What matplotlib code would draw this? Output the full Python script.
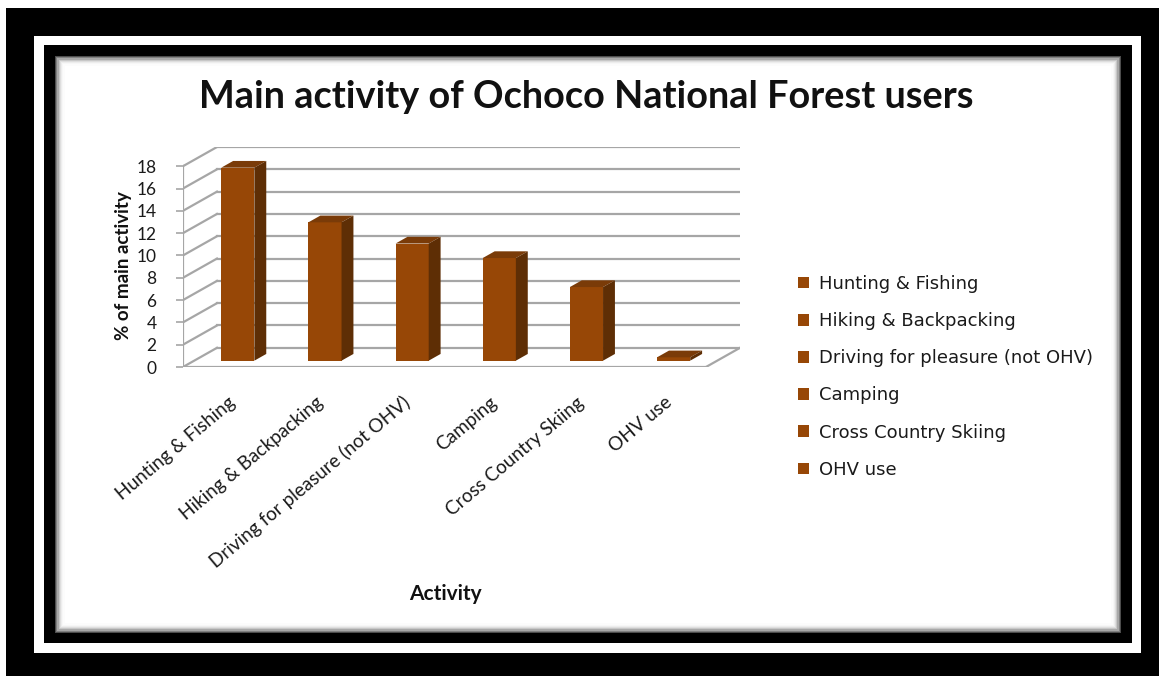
import matplotlib
matplotlib.use("Agg")
import matplotlib.pyplot as plt
from matplotlib.patches import Rectangle, Polygon
import numpy as np

# ---------------- data ----------------
categories = ["Hunting & Fishing", "Hiking & Backpacking",
              "Driving for pleasure (not OHV)", "Camping",
              "Cross Country Skiing", "OHV use"]
values = [17.3, 12.4, 10.5, 9.2, 6.6, 0.3]
yticks = [0, 2, 4, 6, 8, 10, 12, 14, 16, 18]
title = "Main activity of Ochoco National Forest users"
ylabel = "% of main activity"
xlabel = "Activity"

W, H = 1159, 676
fig = plt.figure(figsize=(W / 100, H / 100), dpi=100)
fig.patch.set_facecolor("white")

def px_rect(x0, y0, x1, y1, **kw):
    r = Rectangle((x0 / W, 1 - y1 / H), (x1 - x0) / W, (y1 - y0) / H,
                  transform=fig.transFigure, **kw)
    fig.patches.append(r)

# frame
px_rect(6, 8, 1159, 676, facecolor="black", edgecolor="none", zorder=0)
px_rect(34, 36, 1141, 653, facecolor="white", edgecolor="none", zorder=1)
px_rect(44, 45, 1132, 643, facecolor="black", edgecolor="none", zorder=2)
# soft shadow of the inner panel
shades = [0.30, 0.50, 0.66, 0.78, 0.87, 0.93, 0.97, 0.99]
for k, g in enumerate(shades):
    px_rect(55 + k * 1.2, 56 + k * 1.2, 1121 - k * 1.2, 633 - k * 1.2,
            facecolor=(g, g, g), edgecolor="none", zorder=3 + k)
d = len(shades) * 1.2
px_rect(55 + d, 56 + d, 1121 - d, 633 - d, facecolor="white",
        edgecolor="none", zorder=12)

# ---------------- 3D-like axes ----------------
DX = 0.39          # depth offset in category units
DY = 1.72          # depth offset in value units
f0, bd = 0.33, 0.35  # bar front depth fraction and bar depth
bw = 0.38
n = len(categories)

x0, x1, yb, yt = 183, 740, 367, 147
ax = fig.add_axes([x0 / W, 1 - yb / H, (x1 - x0) / W, (yb - yt) / H])
ax.set_zorder(20)
ax.patch.set_alpha(0)
ax.set_xlim(0, n + DX)
ax.set_ylim(0, yticks[-1] + DY)
for s in ax.spines.values():
    s.set_visible(False)

gc = "#a6a6a6"
glw = 1.6
for v in yticks:
    ax.plot([DX, n + DX], [v + DY, v + DY], color=gc, lw=glw, zorder=1)
    ax.plot([0, DX], [v, v + DY], color=gc, lw=glw, zorder=1)
# floor front and right edge, left front axis
ax.plot([0, n], [0, 0], color=gc, lw=glw, zorder=1)
ax.plot([n, n + DX], [0, DY], color=gc, lw=glw, zorder=1)
ax.plot([0, 0], [0, yticks[-1]], color=gc, lw=glw, zorder=1)

front = "#974706"
side = "#5e2e05"
top = "#7a3b08"
centers = np.arange(n) + 0.5 + f0 * DX
bottom = f0 * DY
ax.bar(centers, values, width=bw, bottom=bottom, color=front,
       edgecolor="none", zorder=3)
for c, v in zip(centers, values):
    xl, xr = c - bw / 2, c + bw / 2
    t = bottom + v
    ax.add_patch(Polygon([(xl, t), (xr, t), (xr + bd * DX, t + bd * DY),
                          (xl + bd * DX, t + bd * DY)],
                         closed=True, facecolor=top, edgecolor="none", zorder=3))
    ax.add_patch(Polygon([(xr, bottom), (xr, t), (xr + bd * DX, t + bd * DY),
                          (xr + bd * DX, bottom + bd * DY)],
                         closed=True, facecolor=side, edgecolor="none", zorder=3))

ax.set_yticks(yticks)
ax.set_yticklabels([str(v) for v in yticks], fontsize=12.5, family="Lato",
                   color="#1a1a1a")
ax.tick_params(axis="y", length=5, width=1.2, color=gc, pad=14)
ax.set_xticks(centers - 0.05)
ax.set_xticklabels(categories, rotation=40, ha="right", va="center",
                   rotation_mode="anchor", fontsize=13.6, family="Lato",
                   color="#1a1a1a")
ax.tick_params(axis="x", length=0, pad=24)

fig.text(124 / W, 1 - 266 / H, ylabel, rotation=90, ha="center", va="center",
         fontsize=13.5, fontweight="bold", family="Lato", color="#111111",
         zorder=30)
fig.text(445 / W, 1 - 594 / H, xlabel, ha="center", va="center",
         fontsize=15, fontweight="bold", family="Lato", color="#111111",
         zorder=30)
fig.text(586 / W, 1 - 97 / H, title, ha="center", va="center",
         fontsize=27.3, fontweight="bold", family="Lato", color="#111111",
         zorder=30)

# legend
handles = [Rectangle((0, 0), 1, 1, facecolor=front, edgecolor="none")
           for _ in categories]
leg = fig.legend(handles, categories, loc="upper left",
                 bbox_to_anchor=(798 / W, 1 - 275 / H), frameon=False,
                 prop={"family": "DejaVu Sans", "size": 13},
                 handlelength=0.6, handleheight=0.6, handletextpad=0.55,
                 labelspacing=1.06, borderaxespad=0, borderpad=0)
leg.set_zorder(30)
for t in leg.get_texts():
    t.set_color("#1a1a1a")

fig.savefig("out.png", dpi=100, facecolor="white")
